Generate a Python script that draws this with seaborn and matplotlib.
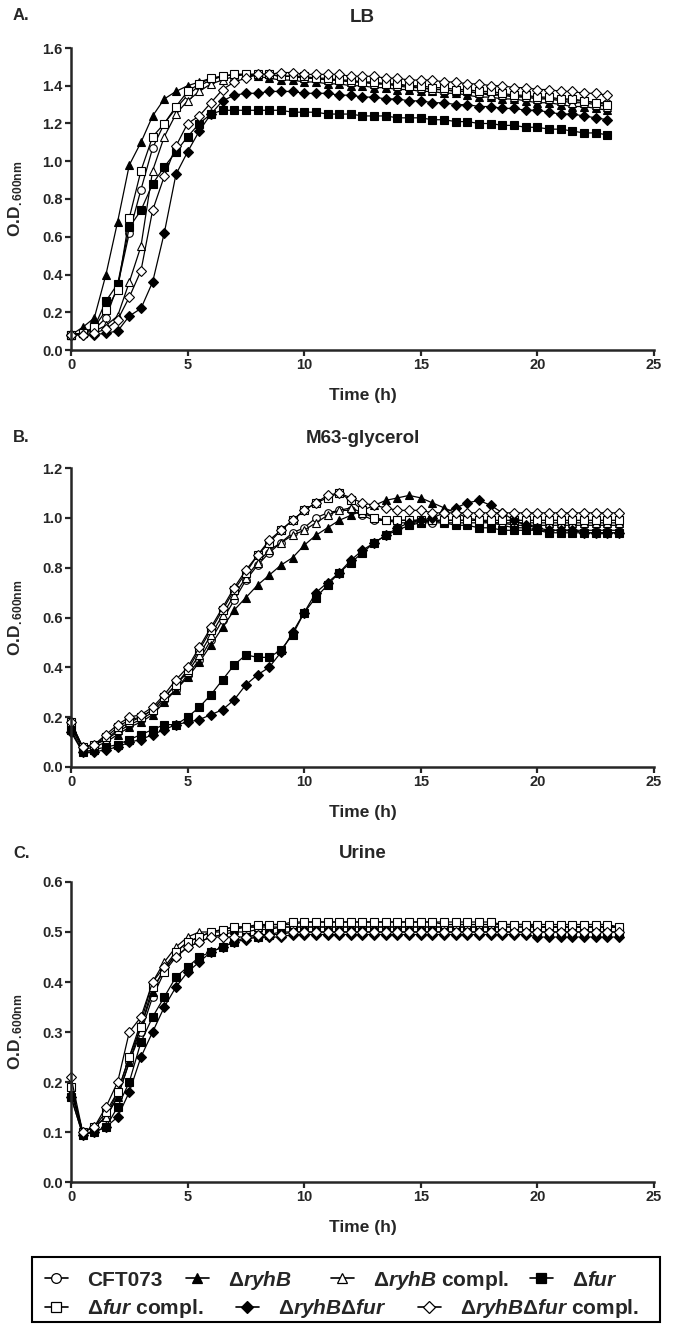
"""Growth curves of CFT073 and iron-regulation mutants in LB, M63-glycerol and urine."""
import matplotlib
matplotlib.use("Agg")
import matplotlib.pyplot as plt
import numpy as np
import pandas as pd
import seaborn as sns
from matplotlib.lines import Line2D
from matplotlib.patches import Rectangle
from matplotlib.ticker import FormatStrFormatter, MultipleLocator

sns.set_theme(style="ticks")
plt.rcParams["font.family"] = ["Liberation Sans", "DejaVu Sans"]
plt.rcParams["font.weight"] = "bold"
plt.rcParams["mathtext.fontset"] = "custom"
plt.rcParams["mathtext.rm"] = "Liberation Sans:bold"
plt.rcParams["mathtext.bf"] = "Liberation Sans:bold"
plt.rcParams["mathtext.it"] = "Liberation Sans:bold:italic"

W, H = 679, 1324

# --- data ----------------------------------------------------------------- #
# sampling every 30 min
time_lb = np.arange(0, 23.01, 0.5)
time_m63 = np.arange(0, 23.51, 0.5)
time_urine = np.arange(0, 23.51, 0.5)

strains = ["CFT073", "ryhB", "ryhB_c", "fur", "fur_c", "ryhBfur", "ryhBfur_c"]
strain_labels = [
    "CFT073",
    r"Δ$\mathit{ryhB}$",
    r"Δ$\mathit{ryhB}$ compl.",
    r"Δ$\mathit{fur}$",
    r"Δ$\mathit{fur}$ compl.",
    r"Δ$\mathit{ryhB}$Δ$\mathit{fur}$",
    r"Δ$\mathit{ryhB}$Δ$\mathit{fur}$ compl.",
]
markers = ["o", "^", "^", "s", "s", "D", "D"]
fills = ["white", "black", "white", "black", "white", "black", "white"]

# LB
lb_cft073 = [0.08, 0.09, 0.11, 0.17, 0.34, 0.62, 0.85, 1.07, 1.20, 1.28,
             1.35, 1.40, 1.43, 1.45, 1.46, 1.46, 1.46, 1.46, 1.45, 1.45,
             1.44, 1.44, 1.43, 1.43, 1.42, 1.42, 1.41, 1.41, 1.40, 1.39,
             1.39, 1.38, 1.38, 1.37, 1.37, 1.36, 1.36, 1.35, 1.35, 1.34,
             1.34, 1.33, 1.33, 1.32, 1.32, 1.31, 1.31]
lb_ryhb = [0.08, 0.12, 0.17, 0.40, 0.68, 0.98, 1.10, 1.24, 1.33, 1.37,
           1.40, 1.42, 1.44, 1.45, 1.46, 1.46, 1.45, 1.44, 1.43, 1.43,
           1.42, 1.42, 1.41, 1.41, 1.40, 1.40, 1.39, 1.39, 1.38, 1.38,
           1.37, 1.37, 1.36, 1.36, 1.35, 1.34, 1.34, 1.33, 1.33, 1.32,
           1.31, 1.31, 1.30, 1.29, 1.29, 1.28, 1.27]
lb_ryhb_c = [0.08, 0.09, 0.10, 0.13, 0.18, 0.36, 0.55, 0.95, 1.13, 1.25,
             1.32, 1.37, 1.41, 1.43, 1.45, 1.46, 1.46, 1.46, 1.45, 1.45,
             1.44, 1.44, 1.43, 1.43, 1.42, 1.42, 1.41, 1.41, 1.40, 1.40,
             1.39, 1.38, 1.38, 1.37, 1.37, 1.36, 1.35, 1.35, 1.34, 1.34,
             1.33, 1.33, 1.32, 1.31, 1.31, 1.30, 1.29]
lb_fur = [0.08, 0.09, 0.12, 0.26, 0.35, 0.65, 0.74, 0.88, 0.97, 1.05,
          1.13, 1.20, 1.25, 1.27, 1.27, 1.27, 1.27, 1.27, 1.27, 1.26,
          1.26, 1.26, 1.25, 1.25, 1.25, 1.24, 1.24, 1.24, 1.23, 1.23,
          1.23, 1.22, 1.22, 1.21, 1.21, 1.20, 1.20, 1.19, 1.19, 1.18,
          1.18, 1.17, 1.17, 1.16, 1.15, 1.15, 1.14]
lb_fur_c = [0.08, 0.09, 0.12, 0.21, 0.32, 0.70, 0.95, 1.13, 1.20, 1.29,
            1.37, 1.41, 1.44, 1.45, 1.46, 1.46, 1.46, 1.46, 1.45, 1.45,
            1.45, 1.44, 1.44, 1.43, 1.43, 1.42, 1.42, 1.41, 1.41, 1.40,
            1.40, 1.39, 1.39, 1.38, 1.38, 1.37, 1.37, 1.36, 1.35, 1.35,
            1.34, 1.34, 1.33, 1.33, 1.32, 1.31, 1.30]
lb_ryhbfur = [0.08, 0.08, 0.08, 0.09, 0.10, 0.18, 0.22, 0.36, 0.62, 0.93,
              1.05, 1.16, 1.25, 1.32, 1.35, 1.36, 1.36, 1.37, 1.37, 1.37,
              1.36, 1.36, 1.36, 1.35, 1.35, 1.34, 1.34, 1.33, 1.33, 1.32,
              1.32, 1.31, 1.31, 1.30, 1.30, 1.29, 1.29, 1.28, 1.28, 1.27,
              1.27, 1.26, 1.25, 1.25, 1.24, 1.23, 1.22]
lb_ryhbfur_c = [0.08, 0.08, 0.09, 0.11, 0.16, 0.28, 0.42, 0.74, 0.92, 1.08,
                1.20, 1.24, 1.31, 1.38, 1.42, 1.44, 1.46, 1.46, 1.47, 1.47,
                1.46, 1.46, 1.46, 1.46, 1.45, 1.45, 1.45, 1.44, 1.44, 1.43,
                1.43, 1.43, 1.42, 1.42, 1.41, 1.41, 1.40, 1.40, 1.39, 1.39,
                1.38, 1.38, 1.37, 1.37, 1.36, 1.36, 1.35]

# M63-glycerol
m63_cft073 = [0.17, 0.08, 0.09, 0.11, 0.14, 0.17, 0.19, 0.22, 0.27, 0.31,
              0.37, 0.43, 0.51, 0.59, 0.67, 0.75, 0.81, 0.86, 0.90, 0.94,
              0.96, 1.00, 1.02, 1.03, 1.03, 1.01, 0.99, 0.99, 0.98, 0.98,
              0.98, 0.98, 0.98, 0.98, 0.98, 0.98, 0.98, 0.98, 0.97, 0.97,
              0.97, 0.97, 0.97, 0.97, 0.97, 0.97, 0.97, 0.97]
m63_ryhb = [0.16, 0.07, 0.08, 0.10, 0.13, 0.16, 0.18, 0.21, 0.26, 0.31,
            0.36, 0.42, 0.49, 0.56, 0.63, 0.68, 0.73, 0.77, 0.81, 0.84,
            0.89, 0.93, 0.96, 0.99, 1.01, 1.03, 1.05, 1.07, 1.08, 1.09,
            1.08, 1.06, 1.04, 1.02, 1.00, 0.99, 0.98, 0.97, 0.96, 0.96,
            0.95, 0.95, 0.95, 0.95, 0.95, 0.95, 0.95, 0.95]
m63_ryhb_c = [0.17, 0.08, 0.09, 0.11, 0.15, 0.18, 0.20, 0.23, 0.28, 0.33,
              0.38, 0.45, 0.53, 0.61, 0.69, 0.76, 0.82, 0.87, 0.90, 0.93,
              0.95, 0.98, 1.01, 1.03, 1.04, 1.02, 1.00, 0.99, 0.99, 0.99,
              0.99, 0.99, 0.99, 0.99, 0.99, 0.99, 0.98, 0.98, 0.98, 0.98,
              0.98, 0.98, 0.98, 0.98, 0.98, 0.98, 0.98, 0.98]
m63_fur = [0.15, 0.06, 0.07, 0.08, 0.09, 0.11, 0.13, 0.15, 0.17, 0.17,
           0.20, 0.24, 0.29, 0.35, 0.41, 0.45, 0.44, 0.44, 0.47, 0.53,
           0.62, 0.68, 0.73, 0.78, 0.82, 0.86, 0.90, 0.93, 0.95, 0.97,
           0.98, 0.99, 0.98, 0.97, 0.97, 0.96, 0.96, 0.95, 0.95, 0.95,
           0.95, 0.94, 0.94, 0.94, 0.94, 0.94, 0.94, 0.94]
m63_fur_c = [0.18, 0.08, 0.09, 0.12, 0.16, 0.19, 0.20, 0.23, 0.28, 0.33,
             0.39, 0.47, 0.55, 0.63, 0.71, 0.78, 0.85, 0.90, 0.95, 0.99,
             1.03, 1.06, 1.08, 1.10, 1.07, 1.03, 1.00, 0.99, 0.99, 0.99,
             0.99, 0.99, 0.99, 0.99, 0.99, 0.99, 0.99, 0.99, 0.99, 0.99,
             0.99, 0.99, 0.99, 0.99, 0.99, 0.99, 0.99, 0.99]
m63_ryhbfur = [0.14, 0.06, 0.06, 0.07, 0.08, 0.10, 0.11, 0.13, 0.15, 0.17,
               0.18, 0.19, 0.21, 0.23, 0.27, 0.33, 0.37, 0.40, 0.46, 0.54,
               0.62, 0.70, 0.74, 0.78, 0.83, 0.87, 0.90, 0.93, 0.96, 0.98,
               0.99, 1.00, 1.02, 1.04, 1.06, 1.07, 1.05, 1.02, 0.99, 0.97,
               0.96, 0.95, 0.95, 0.95, 0.94, 0.94, 0.94, 0.94]
m63_ryhbfur_c = [0.18, 0.08, 0.09, 0.13, 0.17, 0.20, 0.21, 0.24, 0.29, 0.35,
                 0.40, 0.48, 0.56, 0.64, 0.72, 0.79, 0.85, 0.91, 0.95, 0.99,
                 1.03, 1.06, 1.09, 1.10, 1.08, 1.06, 1.05, 1.04, 1.03, 1.03,
                 1.03, 1.02, 1.02, 1.02, 1.02, 1.02, 1.02, 1.02, 1.02, 1.02,
                 1.02, 1.02, 1.02, 1.02, 1.02, 1.02, 1.02, 1.02]

# urine
ur_cft073 = [0.19, 0.10, 0.11, 0.13, 0.17, 0.24, 0.30, 0.37, 0.42, 0.45,
             0.47, 0.48, 0.49, 0.495, 0.50, 0.50, 0.505, 0.505, 0.51, 0.51,
             0.51, 0.51, 0.51, 0.51, 0.51, 0.51, 0.51, 0.51, 0.51, 0.51,
             0.51, 0.51, 0.51, 0.51, 0.51, 0.51, 0.51, 0.51, 0.51, 0.51,
             0.51, 0.51, 0.51, 0.51, 0.51, 0.51, 0.51, 0.51]
ur_ryhb = [0.18, 0.10, 0.11, 0.13, 0.17, 0.24, 0.31, 0.38, 0.43, 0.46,
           0.48, 0.49, 0.50, 0.50, 0.505, 0.51, 0.51, 0.51, 0.51, 0.51,
           0.51, 0.51, 0.51, 0.51, 0.51, 0.51, 0.51, 0.51, 0.51, 0.51,
           0.51, 0.51, 0.51, 0.51, 0.51, 0.51, 0.51, 0.51, 0.51, 0.51,
           0.51, 0.51, 0.51, 0.51, 0.51, 0.51, 0.51, 0.51]
ur_ryhb_c = [0.19, 0.10, 0.11, 0.13, 0.18, 0.25, 0.32, 0.40, 0.44, 0.47,
             0.49, 0.50, 0.50, 0.505, 0.51, 0.51, 0.51, 0.515, 0.515, 0.515,
             0.52, 0.52, 0.52, 0.52, 0.52, 0.52, 0.52, 0.52, 0.52, 0.52,
             0.52, 0.52, 0.515, 0.515, 0.515, 0.515, 0.515, 0.515, 0.515, 0.515,
             0.51, 0.51, 0.51, 0.51, 0.51, 0.51, 0.51, 0.51]
ur_fur = [0.17, 0.095, 0.10, 0.11, 0.15, 0.20, 0.28, 0.33, 0.37, 0.41,
          0.43, 0.45, 0.46, 0.47, 0.48, 0.49, 0.49, 0.495, 0.50, 0.50,
          0.50, 0.50, 0.50, 0.50, 0.50, 0.50, 0.50, 0.50, 0.50, 0.50,
          0.50, 0.50, 0.50, 0.50, 0.50, 0.50, 0.50, 0.50, 0.50, 0.50,
          0.50, 0.50, 0.50, 0.50, 0.50, 0.50, 0.50, 0.50]
ur_fur_c = [0.19, 0.10, 0.11, 0.14, 0.18, 0.25, 0.31, 0.39, 0.42, 0.46,
            0.48, 0.49, 0.50, 0.505, 0.51, 0.51, 0.515, 0.515, 0.515, 0.52,
            0.52, 0.52, 0.52, 0.52, 0.52, 0.52, 0.52, 0.52, 0.52, 0.52,
            0.52, 0.52, 0.52, 0.52, 0.52, 0.52, 0.52, 0.515, 0.515, 0.515,
            0.515, 0.515, 0.515, 0.515, 0.515, 0.515, 0.515, 0.51]
ur_ryhbfur = [0.17, 0.095, 0.10, 0.11, 0.13, 0.18, 0.25, 0.30, 0.35, 0.39,
              0.42, 0.44, 0.46, 0.47, 0.48, 0.485, 0.49, 0.49, 0.49, 0.495,
              0.495, 0.495, 0.495, 0.495, 0.495, 0.495, 0.495, 0.495, 0.495, 0.495,
              0.495, 0.495, 0.495, 0.495, 0.495, 0.495, 0.495, 0.495, 0.495, 0.495,
              0.49, 0.49, 0.49, 0.49, 0.49, 0.49, 0.49, 0.49]
ur_ryhbfur_c = [0.21, 0.10, 0.11, 0.15, 0.20, 0.30, 0.33, 0.40, 0.43, 0.45,
                0.47, 0.48, 0.49, 0.49, 0.49, 0.49, 0.495, 0.495, 0.495, 0.50,
                0.50, 0.50, 0.50, 0.50, 0.50, 0.50, 0.50, 0.50, 0.50, 0.50,
                0.50, 0.50, 0.50, 0.50, 0.50, 0.50, 0.50, 0.50, 0.50, 0.50,
                0.50, 0.50, 0.50, 0.50, 0.50, 0.50, 0.50, 0.50]

panels = [
    ("A.", "LB", time_lb,
     [lb_cft073, lb_ryhb, lb_ryhb_c, lb_fur, lb_fur_c, lb_ryhbfur, lb_ryhbfur_c],
     1.6, 0.2, (48, 350), 17),
    ("B.", "M63-glycerol", time_m63,
     [m63_cft073, m63_ryhb, m63_ryhb_c, m63_fur, m63_fur_c, m63_ryhbfur, m63_ryhbfur_c],
     1.2, 0.2, (468, 767), 438),
    ("C.", "Urine", time_urine,
     [ur_cft073, ur_ryhb, ur_ryhb_c, ur_fur, ur_fur_c, ur_ryhbfur, ur_ryhbfur_c],
     0.6, 0.1, (882, 1182), 854),
]

# --- figure --------------------------------------------------------------- #
fig = plt.figure(figsize=(W / 100, H / 100), dpi=100)
left_px, right_px = 71, 654

for letter, title, t, series, ymax, ystep, (top_px, bot_px), title_px in panels:
    ax = fig.add_axes([left_px / W, 1 - bot_px / H,
                       (right_px - left_px) / W, (bot_px - top_px) / H])
    df = pd.concat(
        [pd.DataFrame({"time": t, "od": v, "strain": s}) for s, v in zip(strains, series)]
    )
    for s, m, fc in zip(strains, markers, fills):
        sub = df[df["strain"] == s]
        sns.lineplot(
            data=sub, x="time", y="od", ax=ax, color="black", linewidth=0.9,
            marker=m, markersize=5.5 if m != "D" else 4.8,
            markerfacecolor=fc, markeredgecolor="black", markeredgewidth=0.8,
            errorbar=None, clip_on=False, legend=False,
        )
    ax.set_xlim(0, 25)
    ax.set_ylim(0, ymax)
    ax.xaxis.set_major_locator(MultipleLocator(5))
    ax.yaxis.set_major_locator(MultipleLocator(ystep))
    ax.yaxis.set_major_formatter(FormatStrFormatter("%.1f"))
    sns.despine(ax=ax)
    for sp in ("left", "bottom"):
        ax.spines[sp].set_linewidth(1.8)
    ax.tick_params(axis="both", direction="out", length=4, width=1.6,
                   labelsize=10.5, pad=2)
    for lab in ax.get_xticklabels() + ax.get_yticklabels():
        lab.set_fontweight("bold")
    h_px = bot_px - top_px
    ax.set_xlabel("Time (h)", fontsize=12.5, fontweight="bold")
    ax.xaxis.set_label_coords(0.5, -(388 - 350) / h_px)
    ax.set_ylabel(r"O.D$_{\mathrm{.600nm}}$", fontsize=12.5, fontweight="bold")
    ax.yaxis.set_label_coords((25 - left_px) / (right_px - left_px), 0.5)
    ax.text(0.5, 1 + (top_px - title_px) / h_px, title, transform=ax.transAxes,
            ha="center", va="center", fontsize=13.5, fontweight="bold")
    fig.text(13 / W, 1 - (title_px - 1) / H, letter, ha="left", va="center",
             fontsize=12, fontweight="bold")

# --- legend box ----------------------------------------------------------- #
fig.add_artist(Rectangle((32 / W, 1 - 1322 / H), 628 / W, 65 / H,
                         transform=fig.transFigure, fill=False,
                         edgecolor="black", linewidth=1.5))
legend_pos = [(45, 1280), (186, 1280), (331, 1280), (530, 1280),
              (45, 1309), (236, 1309), (418, 1309)]
for lab, m, fc, (x, y) in zip(strain_labels, markers, fills, legend_pos):
    handle = Line2D([], [], color="black", linewidth=1.2, marker=m,
                    markersize=7 if m != "D" else 6, markerfacecolor=fc,
                    markeredgecolor="black", markeredgewidth=0.9)
    fig.legend(handles=[handle], labels=[lab], loc="center left",
               bbox_to_anchor=(x / W, 1 - y / H), bbox_transform=fig.transFigure,
               frameon=False, borderpad=0, borderaxespad=0,
               handlelength=1.1, handletextpad=0.9,
               prop={"size": 15, "weight": "bold"})

fig.savefig("out.png", dpi=100)
